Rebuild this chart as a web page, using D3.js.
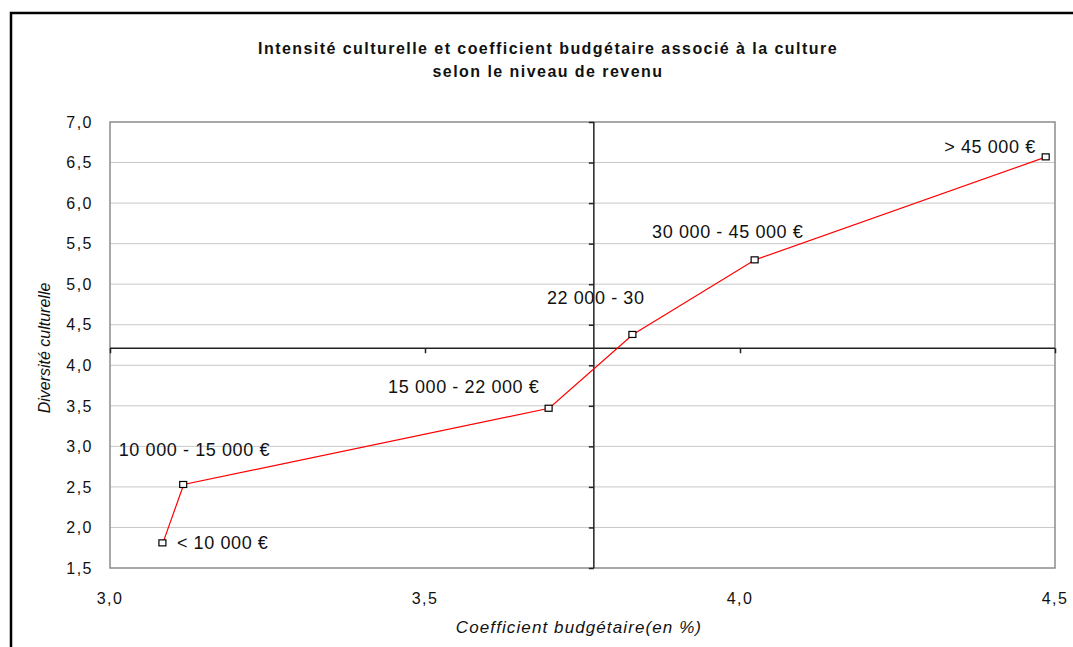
<!DOCTYPE html>
<html>
<head>
<meta charset="utf-8">
<script src="https://cdn.jsdelivr.net/npm/d3@7"></script>
<style>
  body { margin: 0; background: #fff; }
  svg text { font-family: "Liberation Sans", Arial, sans-serif; fill: #111; }
</style>
</head>
<body>
<div id="chart"></div>
<script>
// income groups, budget coefficient (x) and cultural diversity (y)
var groups = ["< 10 000 €", "10 000 - 15 000 €", "15 000 - 22 000 €", "22 000 - 30", "30 000 - 45 000 €", "> 45 000 €"];
var coefBudget = [3.084, 3.117, 3.697, 3.83, 4.024, 4.486];
var diversite = [1.81, 2.53, 3.47, 4.38, 5.30, 6.57];
// where the two axes cross
var crossX = 3.768;
var crossY = 4.21;
var xTicks = [3.0, 3.5, 4.0, 4.5];
var yTicks = [1.5, 2.0, 2.5, 3.0, 3.5, 4.0, 4.5, 5.0, 5.5, 6.0, 6.5, 7.0];

var width = 1073, height = 647;
var plotLeft = 110, plotRight = 1055, plotTop = 122, plotBottom = 568;

var svg = d3.select('#chart').append('svg')
            .attr("width", width)
            .attr("height", height)

// outer frame
svg.append("rect")
    .attr("x", 11).attr("y", 13)
    .attr("width", width + 20).attr("height", height + 20)
    .attr("fill", "none").attr("stroke", "#000").attr("stroke-width", 2.5)

var x = d3.scaleLinear().domain([3.0, 4.5]).range([plotLeft, plotRight]);
var y = d3.scaleLinear().domain([1.5, 7.0]).range([plotBottom, plotTop]);
var fmt = function(v) { return d3.format(".1f")(v).replace(".", ","); };

// gridlines
svg.append("g").selectAll("line")
    .data(yTicks.slice(1, -1))
    .enter().append("line")
    .attr("x1", plotLeft).attr("x2", plotRight)
    .attr("y1", function(d) { return y(d); })
    .attr("y2", function(d) { return y(d); })
    .attr("stroke", "#c8c8c8").attr("stroke-width", 1)

// plot border
svg.append("rect")
    .attr("x", plotLeft).attr("y", plotTop)
    .attr("width", plotRight - plotLeft).attr("height", plotBottom - plotTop)
    .attr("fill", "none").attr("stroke", "#8c8c8c").attr("stroke-width", 1.5)

// axes crossing in the middle
var xAxis = d3.axisBottom(x).tickValues(xTicks).tickSize(5).tickFormat("");
var yAxis = d3.axisLeft(y).tickValues(yTicks).tickSize(5).tickFormat("");

svg.append("g")
    .attr("transform", "translate(0," + y(crossY) + ")")
    .call(xAxis)
    .call(function(g) { g.select(".domain").attr("stroke", "#222").attr("stroke-width", 1.5).attr("d", "M" + plotLeft + ",0H" + plotRight); })
    .selectAll(".tick line").attr("stroke", "#222").attr("stroke-width", 1.5)

svg.append("g")
    .attr("transform", "translate(" + x(crossX) + ",0)")
    .call(yAxis)
    .call(function(g) { g.select(".domain").attr("stroke", "#222").attr("stroke-width", 1.5).attr("d", "M0," + plotTop + "V" + plotBottom); })
    .selectAll(".tick line").attr("stroke", "#222").attr("stroke-width", 1.5)

// tick labels at the plot edges
svg.append("g").selectAll("text")
    .data(yTicks)
    .enter().append("text")
    .attr("x", 93)
    .attr("y", function(d) { return y(d); })
    .attr("dy", "0.36em")
    .attr("text-anchor", "end")
    .style("font-size", "16px").style("letter-spacing", "1.5px")
    .text(fmt)

svg.append("g").selectAll("text")
    .data(xTicks)
    .enter().append("text")
    .attr("x", function(d) { return x(d); })
    .attr("y", 598)
    .attr("dy", "0.36em")
    .attr("text-anchor", "middle")
    .style("font-size", "16px").style("letter-spacing", "1.5px")
    .text(fmt)

// title
var title = svg.append("text")
    .attr("text-anchor", "middle")
    .style("font-size", "16px").style("font-weight", "bold").style("letter-spacing", "1.45px")
title.append("tspan").attr("x", 548).attr("y", 54).text("Intensité culturelle et coefficient budgétaire associé à la culture")
title.append("tspan").attr("x", 548).attr("y", 77).text("selon le niveau de revenu")

// axis titles
svg.append("text")
    .attr("transform", "translate(50,348) rotate(-90)")
    .attr("text-anchor", "middle")
    .style("font-size", "16px").style("font-style", "italic")
    .text("Diversité culturelle")

svg.append("text")
    .attr("x", 579).attr("y", 633)
    .attr("text-anchor", "middle")
    .style("font-size", "17px").style("font-style", "italic").style("letter-spacing", "1.1px")
    .text("Coefficient budgétaire(en %)")

// data line and markers
var pts = coefBudget.map(function(v, i) { return { x: v, y: diversite[i], label: groups[i] }; });

var line = d3.line().x(function(d) { return x(d.x); }).y(function(d) { return y(d.y); });
svg.append("path")
    .datum(pts)
    .attr("d", line)
    .attr("fill", "none").attr("stroke", "#ff0000").attr("stroke-width", 1.2)

svg.append("g").selectAll("rect")
    .data(pts)
    .enter().append("rect")
    .attr("x", function(d) { return x(d.x) - 4; })
    .attr("y", function(d) { return y(d.y) - 3; })
    .attr("width", 7).attr("height", 6)
    .attr("fill", "#fff").attr("stroke", "#000").attr("stroke-width", 1.2)

// label offsets from each marker
var labelDx = [14, -65, -161, -86, -103, -102];
var labelDy = [0, -35, -22, -37, -28, -10];

svg.append("g").selectAll("text")
    .data(pts)
    .enter().append("text")
    .attr("x", function(d, i) { return x(d.x) + labelDx[i]; })
    .attr("y", function(d, i) { return y(d.y) + labelDy[i]; })
    .attr("dy", "0.36em")
    .style("font-size", "18px").style("letter-spacing", "0.6px")
    .text(function(d) { return d.label; })
</script>
</body>
</html>
